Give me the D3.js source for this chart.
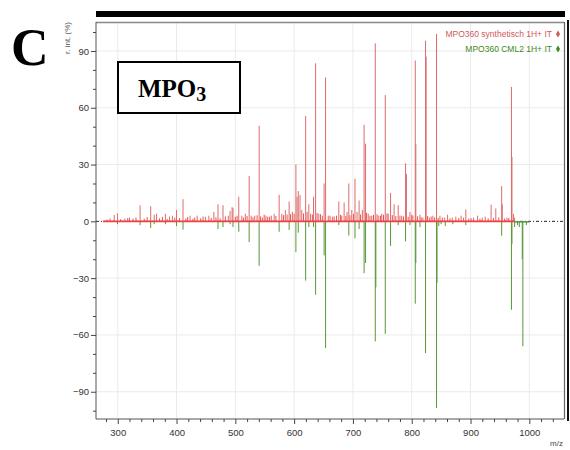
<!DOCTYPE html>
<html><head><meta charset="utf-8">
<script src="https://cdn.jsdelivr.net/npm/d3@7/dist/d3.min.js"></script>
<style>
body{margin:0;background:#fff;}
svg{display:block;}
.tick text{font-family:"Liberation Sans Narrow","Liberation Sans",Arial,sans-serif;}
</style></head>
<body><svg id="c" width="570" height="450"></svg>
<script>
// ---- data ----
const seriesNames = ["MPO360 synthetisch 1H+ IT", "MPO360 CML2 1H+ IT"];
// red (upper) spectrum: m/z and relative intensity
const redMz = [294,299.5,312,320,338,356,362,366,381,388,393,400,411,423,435,449,455,463.5,470.5,479,488,491,494.5,496,505.8,511,517,523.5,527,533,540.5,546,552,558,566,574.5,579,585,591.5,597,603,605,607,610,613,619.6,625,628,633,636.5,642,648,651,653.5,658,665,676,681,685,690,693,698,703.5,707,710.5,716,719,721.5,726,732,738,744,749,755,760,764,770,777,783,789.5,791,797,802,806,807,814,819,823.5,824.5,830,836,842.2,848,856,861,869,875,884,888,892,905,912,920,925,935,943,953,954,962,969.6,970.5,973,975];
const redInt = [3.4,4.2,1.5,2,8.5,8,3.5,4,4,2.5,3,6,11.7,3,3,2.5,3,5,9,8.5,3,5.5,7.5,7,13,3,4,24,3,3,50.5,2,3,2.5,4,14,4,6,10.5,5,30,13,16,14,6,55.7,9,4,13,83.5,4,3,20,76,3,2.5,10.5,3,10,5,20,6,22.5,5,11,6,51,41,4,3,94,3,4,66.7,4,15,9,8.5,3,30.7,25,5,3,85,41,3.5,2,95.4,87,2,3,99,3,2,3.5,2,2.5,3,2,6.3,2,3,2,2.5,8.8,6.8,18.6,9,2,71,34,4,2];
// small background peaks of the red trace
const redNoiseMz = [282,287,305,317,326,331,345,350,371,376,384,397,405,416,419,428,431,441,445,459,467,474,483,500,503,514,520,530,537,543,549,555,561,569,582,588,594,600,616,622,631,639,645,661,668,672,679,688,695,701,713,723,729,735,741,747,752,758,767,773,780,786,794,800,810,816,827,833,839,845,852,865,880,897,901,916,930,939,948,958,965];
const redNoiseInt = [1,1.5,1.2,1.8,1.5,2,1.4,2.2,1.6,2.4,1.3,2,1.7,1.5,2.3,1.4,2,1.6,2.5,1.8,2.2,1.6,2.6,2.4,3,2,2.8,2.2,3.2,2.6,3.5,2.4,3,2.8,3.3,3.6,3.8,4,4.2,5,3.6,4.4,3.8,3,2.6,3,3.4,2.8,3.2,4,3.6,4.5,3,3.4,3.8,3,3.5,4.2,3.3,2.8,3,2.6,2.4,3.5,2.7,2.2,2.8,2.5,2.1,1.8,2,1.6,1.8,1.5,1.7,1.4,1.6,1.8,2,1.5,1.7];
// green (lower, mirrored) spectrum
const greenMz = [299.5,338,356,362,381,400,411,470.5,479,491,496,505.8,523.5,540.5,574.5,591.5,603,607,619.6,625,633,636.5,651,653.5,676,693,703.5,710.5,719,721.5,738,739,755,764,777,789.5,797,806,807,814,823.5,842.2,843,846,850,857,870,892,953,969.6,970.5,975,980,983,988,989,995];
const greenInt = [-1.5,-2,-3.5,-1.5,-1.5,-2.5,-4.4,-4,-3,-1.5,-3,-5.5,-11,-23.5,-5.5,-4.5,-16.3,-6,-31.3,-3,-3,-38.8,-18,-67,-2,-7.5,-9,-4,-27.4,-22,-63.4,-34.8,-59.4,-13,-2,-10.6,-2,-43.5,-22,-3,-69.6,-98.6,-32.5,-2.5,-1.5,-2.5,-1.5,-2,-7.6,-46.7,-12,-3,-2,-3,-20,-66,-2];
const xTicks = [300,400,500,600,700,800,900,1000];
const yTicks = [-90,-60,-30,0,30,60,90];
const redBase = [275, 975];
const greenBase = [975, 1000];

// ---- layout ----
const svg = d3.select("#c");
const x = d3.scaleLinear().domain([263,1059]).range([96,564]);
const y = d3.scaleLinear().domain([-104.4,105.3]).range([419,22]);
const RED = "#e06a6a", GREEN = "#57983a";

// top black bar
svg.append("rect").attr("x",96).attr("y",11).attr("width",469).attr("height",6).attr("fill","#000");

// grid
const g = svg.append("g");
g.selectAll("line.vg").data(xTicks).join("line")
  .attr("x1",d=>x(d)).attr("x2",d=>x(d)).attr("y1",22).attr("y2",419)
  .attr("stroke","#ebebeb").attr("stroke-width",1);
g.selectAll("line.hg").data(yTicks.filter(d=>d!==0)).join("line")
  .attr("x1",96).attr("x2",564).attr("y1",d=>y(d)).attr("y2",d=>y(d))
  .attr("stroke","#ebebeb").attr("stroke-width",1);

// frame
svg.append("line").attr("x1",96).attr("x2",564).attr("y1",22.5).attr("y2",22.5).attr("stroke","#888").attr("stroke-width",1.5);
svg.append("line").attr("x1",564.5).attr("x2",564.5).attr("y1",22).attr("y2",419).attr("stroke","#666").attr("stroke-width",1.2);
svg.append("line").attr("x1",568).attr("x2",568).attr("y1",20).attr("y2",421).attr("stroke","#111").attr("stroke-width",2);

// baseline dotted black
svg.append("line").attr("x1",96).attr("x2",564).attr("y1",y(0)).attr("y2",y(0))
  .attr("stroke","#222").attr("stroke-width",1).attr("stroke-dasharray","3,2,1,2");

// red noise
svg.append("g").selectAll("line").data(redNoiseMz).join("line")
  .attr("x1",d=>x(d)).attr("x2",d=>x(d)).attr("y1",y(0))
  .attr("y2",(d,i)=>y(redNoiseInt[i])).attr("stroke","#ee5050").attr("stroke-width",1);
// red peaks
svg.append("g").selectAll("line").data(redMz).join("line")
  .attr("x1",d=>x(d)).attr("x2",d=>x(d)).attr("y1",y(0))
  .attr("y2",(d,i)=>y(redInt[i])).attr("stroke",RED).attr("stroke-width",1);
// green peaks
svg.append("g").selectAll("line").data(greenMz).join("line")
  .attr("x1",d=>x(d)).attr("x2",d=>x(d)).attr("y1",y(0))
  .attr("y2",(d,i)=>y(greenInt[i])).attr("stroke",GREEN).attr("stroke-width",1);
// baselines
svg.append("line").attr("x1",x(greenBase[0])).attr("x2",x(greenBase[1])).attr("y1",y(0)+0.5).attr("y2",y(0)+0.5)
  .attr("stroke",GREEN).attr("stroke-width",1.5);
svg.append("line").attr("x1",x(redBase[0])).attr("x2",x(redBase[1])).attr("y1",y(0)).attr("y2",y(0))
  .attr("stroke","#f04040").attr("stroke-width",1.8);

// axes
const xAxis = svg.append("g").attr("transform","translate(0,419)")
  .call(d3.axisBottom(x).tickValues(xTicks).tickSize(5).tickPadding(5).tickFormat(d3.format("d")));
svg.append("g").attr("transform","translate(0,419)")
  .call(d3.axisBottom(x).tickValues(d3.range(280,1060,20).filter(v=>v%100!==0)).tickSize(3).tickFormat(""))
  .call(s=>s.select(".domain").remove());
const yAxis = svg.append("g").attr("transform","translate(96,0)")
  .call(d3.axisLeft(y).tickValues(yTicks).tickSize(5).tickPadding(2));
svg.append("g").attr("transform","translate(96,0)")
  .call(d3.axisLeft(y).tickValues(d3.range(-100,110,10).filter(v=>v%30!==0)).tickSize(3).tickFormat(""))
  .call(s=>s.select(".domain").remove());
svg.selectAll(".domain").attr("stroke","#555");
svg.selectAll(".tick line").attr("stroke","#444");
svg.selectAll(".tick text").attr("font-size",9.5).attr("fill","#333");
xAxis.select(".domain").attr("d","M96,0H564");
yAxis.select(".domain").attr("d","M0,22V419");

// axis titles
svg.append("text").attr("x",563).attr("y",446).attr("text-anchor","end")
  .attr("font-family","Liberation Sans Narrow, Liberation Sans, Arial").attr("font-size",8).attr("fill","#444").text("m/z");
svg.append("text").attr("transform","translate(70,38) rotate(-90)").attr("text-anchor","middle")
  .attr("font-family","Liberation Sans Narrow, Liberation Sans, Arial").attr("font-size",8).attr("fill","#555").text("r. int. (%)");

// legend
const leg = svg.append("g");
[[seriesNames[0],"#d05858",37],[seriesNames[1],"#3f8a22",52]].forEach(([t,c,yy])=>{
  leg.append("text").attr("x",552).attr("y",yy).attr("text-anchor","end")
    .attr("font-family","Liberation Sans Narrow, Liberation Sans, Arial").attr("font-size",8.5).attr("fill",c).text(t);
  leg.append("path").attr("d",d3.symbol(d3.symbolDiamond,14)()).attr("transform",`translate(558,${yy-3})`).attr("fill",c);
});

// panel letter
svg.append("text").attr("x",11).attr("y",65).attr("font-family","Liberation Serif, Times New Roman, serif")
  .attr("font-weight","bold").attr("font-size",52).attr("fill","#000").text("C");

// MPO3 box
svg.append("rect").attr("x",118).attr("y",62).attr("width",122).attr("height",51)
  .attr("fill","#fff").attr("stroke","#000").attr("stroke-width",2);
const t = svg.append("text").attr("x",138).attr("y",97).attr("font-family","Liberation Serif, Times New Roman, serif")
  .attr("font-weight","bold").attr("font-size",25).attr("fill","#000");
t.append("tspan").text("MPO");
t.append("tspan").attr("font-size",20).attr("dy",4).text("3");
</script></body></html>
